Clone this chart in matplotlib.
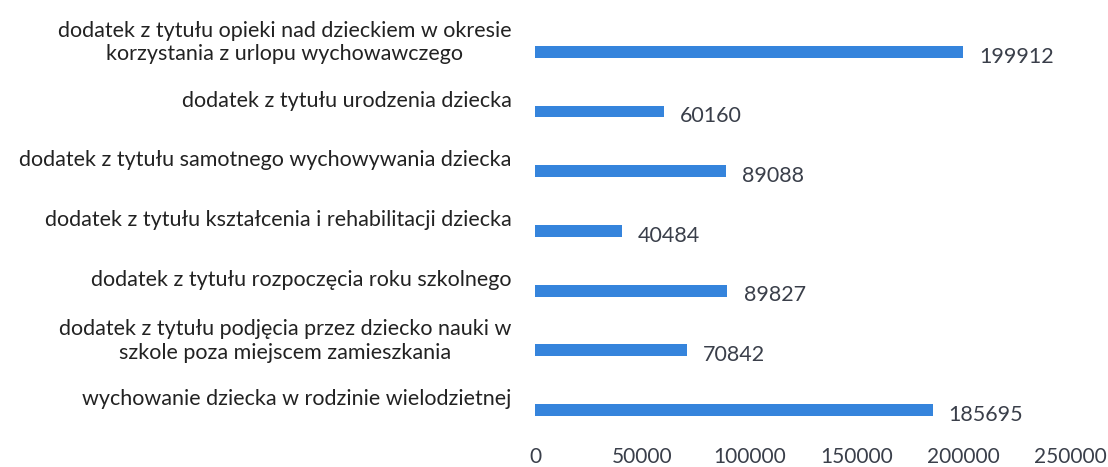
import matplotlib
matplotlib.use("Agg")
import matplotlib.pyplot as plt
import matplotlib.transforms as mtransforms

# categories listed top to bottom, as in the picture
categories = [
    "dodatek z tytułu opieki nad dzieckiem w okresie\nkorzystania z urlopu wychowawczego",
    "dodatek z tytułu urodzenia dziecka",
    "dodatek z tytułu samotnego wychowywania dziecka",
    "dodatek z tytułu kształcenia i rehabilitacji dziecka",
    "dodatek z tytułu rozpoczęcia roku szkolnego",
    "dodatek z tytułu podjęcia przez dziecko nauki w\nszkole poza miejscem zamieszkania",
    "wychowanie dziecka w rodzinie wielodzietnej",
]
values = [199912, 60160, 89088, 40484, 89827, 70842, 185695]
xticks = [0, 50000, 100000, 150000, 200000, 250000]

plt.rcParams["font.family"] = ["Lato", "DejaVu Sans"]

fig = plt.figure(figsize=(11.08, 4.67), dpi=100)
ax = fig.add_axes([0.483, 0.058, 0.483, 0.895])

pos = list(range(len(categories)))[::-1]
ax.barh(pos, values, height=0.2, color="#3584dc")

for p, v in zip(pos, values):
    ax.text(v + 7500, p - 0.08, str(v), va="center", ha="left",
            fontsize=15.5, color="#3a3f4a")

ax.set_xlim(0, 250000)
ax.set_ylim(-0.5, len(categories) - 0.5)
ax.set_yticks(pos)
ax.set_yticklabels(categories, fontsize=15.5, color="#222222",
                   multialignment="center")
ax.set_xticks(xticks)
ax.set_xticklabels([str(t) for t in xticks], fontsize=15, color="#3a3f4a")
ax.tick_params(axis="both", length=0)
ax.tick_params(axis="y", pad=17)
ax.tick_params(axis="x", pad=5)

# labels in the scan sit a little above their bars
shift = mtransforms.ScaledTranslation(0, 0.13, fig.dpi_scale_trans)
for lbl in ax.get_yticklabels():
    lbl.set_transform(lbl.get_transform() + shift)

for s in ax.spines.values():
    s.set_visible(False)

fig.savefig("out.png", dpi=100, facecolor="white")
